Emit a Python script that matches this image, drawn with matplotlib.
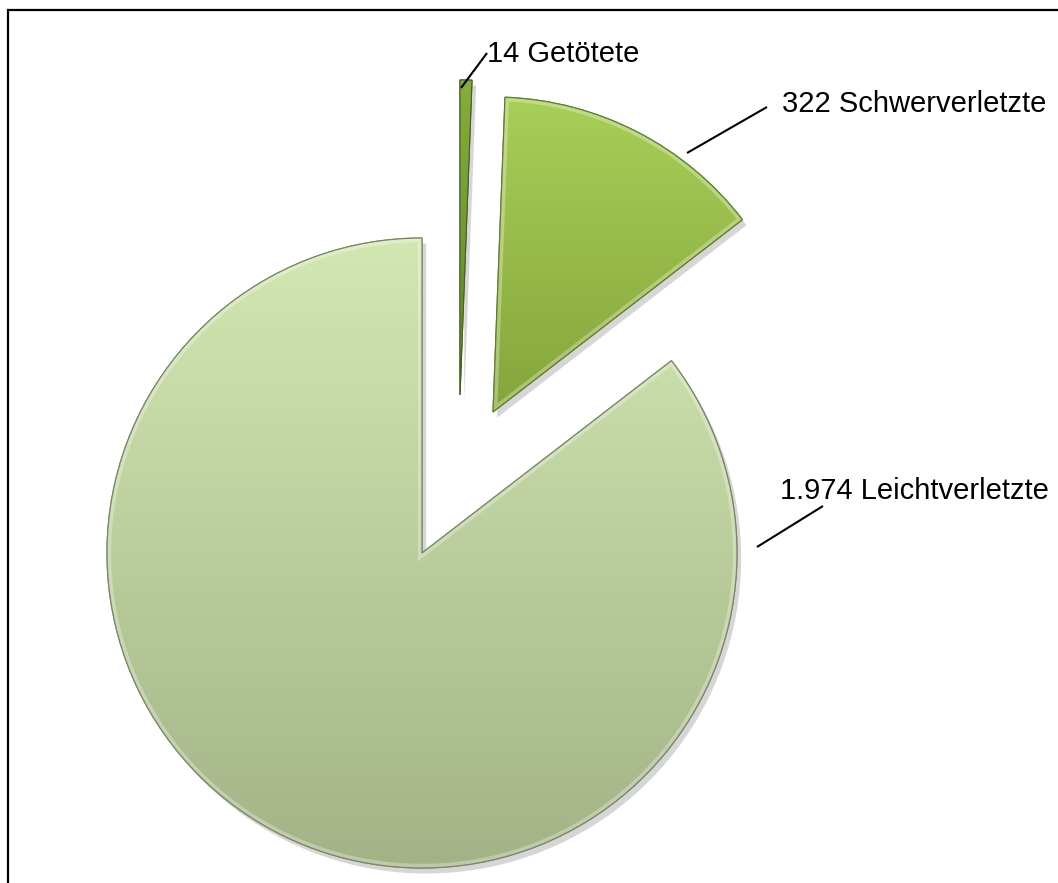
import numpy as np
import matplotlib
matplotlib.use("Agg")
import matplotlib.pyplot as plt
from matplotlib.patches import Rectangle, Wedge
import matplotlib.patheffects as pe
from matplotlib.colors import to_rgb

# ---- data ----
categories = ["Getötete", "Schwerverletzte", "Leichtverletzte"]
values = [14, 322, 1974]
value_labels = ["14", "322", "1.974"]

# ---- styling ----
W, H = 1058, 883
top_colors = ["#86ad3f", "#a8cf58", "#d3e7b2"]
bottom_colors = ["#5f8228", "#85a53c", "#a3b387"]
glow_widths = [0.8, 6, 6]
# slice offsets (pixels, y up) applied to each wedge after the pie is drawn
offsets = [(38, 158), (71, 141), (0, 0)]
center = (422, H - 553)
radius = 315

fig = plt.figure(figsize=(W / 100, H / 100), dpi=100)
ax = fig.add_axes([0, 0, 1, 1])

wedges, _ = ax.pie(values, startangle=90, counterclock=False, radius=radius,
                   center=center, frame=False,
                   wedgeprops=dict(linewidth=0))
ax.set_xlim(0, W)
ax.set_ylim(0, H)
ax.set_aspect("equal", adjustable="box")
ax.axis("off")

for w, off, tc, bc, gw in zip(wedges, offsets, top_colors, bottom_colors, glow_widths):
    w.set_center((center[0] + off[0], center[1] + off[1]))
    w.set_facecolor(bc)
    w.set_edgecolor(tuple(c * 0.75 for c in to_rgb(bc)))
    w.set_linewidth(0.8)
    w.set_path_effects([pe.SimplePatchShadow(offset=(3, -4), shadow_rgbFace="#000000", alpha=0.16),
                        pe.Normal()])
    w.set_zorder(2)
    ext = w.get_path().get_extents()
    n = 256
    t = np.linspace(0, 1, n)[:, None]
    c0 = np.array(to_rgb(bc))
    c1 = np.array(to_rgb(tc))
    img = c0[None, :] * (1 - t) + c1[None, :] * t
    img = np.repeat(img[:, None, :], 2, axis=1)
    im = ax.imshow(img, extent=[ext.x0, ext.x1, ext.y0, ext.y1], origin="lower",
                   aspect="auto", zorder=3, interpolation="bilinear")
    im.set_clip_path(w)
    # inner light bevel
    glow = Wedge(w.center, w.r, w.theta1, w.theta2, facecolor="none",
                 edgecolor="white", alpha=0.3, linewidth=gw, zorder=4)
    ax.add_patch(glow)
    glow.set_clip_path(w)
    edge = Wedge(w.center, w.r, w.theta1, w.theta2, facecolor="none",
                 edgecolor=tuple(c * 0.75 for c in to_rgb(bc)), linewidth=0.9, zorder=5)
    ax.add_patch(edge)

# labels and leader lines (image coords -> y up)
label_pos = [(487, 62), (782, 112), (780, 499)]
leaders = [((461, 88), (487, 53)), ((687, 153), (767, 107)), ((757, 547), (823, 506))]
font = ["Liberation Sans", "DejaVu Sans"]
for cat, vl, (lx, ly), (p0, p1) in zip(categories, value_labels, label_pos, leaders):
    ax.text(lx, H - ly, f"{vl} {cat}", ha="left", va="baseline",
            fontsize=21, family=font, color="black", zorder=10)
    ax.plot([p0[0], p1[0]], [H - p0[1], H - p1[1]], color="black", lw=1.5,
            zorder=10, solid_capstyle="butt")

# outer frame
ax.add_patch(Rectangle((8, -20), W + 40, H - 10 + 20, facecolor="none",
                       edgecolor="black", linewidth=1.6, zorder=11, clip_on=False))

fig.savefig("out.png", dpi=100)
